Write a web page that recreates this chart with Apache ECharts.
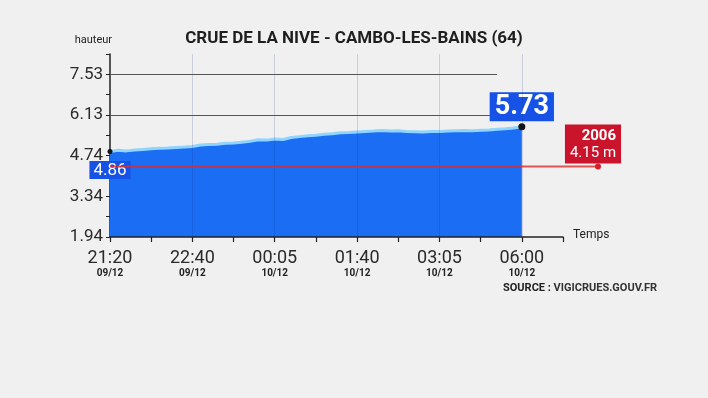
<!DOCTYPE html>
<html>
<head>
<meta charset="utf-8">
<script src="https://cdn.jsdelivr.net/npm/echarts@6/dist/echarts.min.js"></script>
<style>
  html, body { margin: 0; padding: 0; background: #f0f0f0; }
  #main { width: 708px; height: 398px; }
</style>
</head>
<body>
<div id="main"></div>
<script>
// hauteur de la Nive, un point tous les ~10 min
var hauteurs = [4.88, 4.92, 4.90, 4.93, 4.95, 4.97, 4.99, 5.00, 5.02, 5.03,
                5.05, 5.10, 5.12, 5.13, 5.16, 5.17, 5.20, 5.23, 5.28, 5.27,
                5.31, 5.29, 5.36, 5.39, 5.42, 5.44, 5.47, 5.49, 5.52, 5.53,
                5.55, 5.57, 5.58, 5.60, 5.58, 5.59, 5.57, 5.56, 5.55, 5.57,
                5.57, 5.58, 5.59, 5.60, 5.59, 5.61, 5.62, 5.64, 5.66, 5.69,
                5.73]
var heures = ['21:20', '22:40', '00:05', '01:40', '03:05', '06:00']
var jours = ['09/12', '09/12', '10/12', '10/12', '10/12', '10/12']
var yTicks = [1.94, 3.34, 4.74, 6.13, 7.53]
var yMinorTicks = [1.94, 2.64, 3.34, 4.04, 4.74, 5.43, 6.13, 6.83, 7.53, 8.23]
var gridLevels = [6.13, 7.53]
var crue2006 = 4.36   // position du trait rouge sur le graphique
var crue2006Label = '4.15 m'
var crue2006Fin = 59.2  // le trait dépasse la fin de l'axe

var PAS = 10           // points entre deux étiquettes
var NB_CAT = 56        // axe prolongé après 06:00
var categories = []
for (var i = 0; i < NB_CAT; i++) categories.push(String(i))

var Y_MIN = 1.94, Y_MAX = 8.23

var chartDom = document.getElementById('main')
var myChart = echarts.init(chartDom)
var font = 'Roboto'

var last = hauteurs.length - 1
var serieData = hauteurs.map(function (v, i) {
  if (i === 0) {
    return {
      value: v, symbol: 'circle', symbolSize: 5,
      itemStyle: { color: '#111' },
      label: {
        show: true, position: 'bottom', distance: 7,
        formatter: '4.86', color: '#fff', fontFamily: font, fontSize: 17,
        backgroundColor: '#1652e6', padding: [1, 4, 0, 4]
      }
    }
  }
  if (i === last) {
    return {
      value: v, symbol: 'circle', symbolSize: 7,
      itemStyle: { color: '#111' },
      label: {
        show: true, position: 'top', distance: 0, offset: [0, -2],
        formatter: '5.73', color: '#fff', fontFamily: font, fontWeight: 'bold', fontSize: 27,
        lineHeight: 28,
        backgroundColor: '#1652e6', padding: [1, 5, 0, 5],
        borderColor: '#e8f0ff', borderWidth: 1
      }
    }
  }
  return v
})

var option = {
  backgroundColor: '#f0f0f0',
  animation: false,
  title: [
    {
      text: 'CRUE DE LA NIVE - CAMBO-LES-BAINS (64)',
      left: 'center', top: 25,
      textStyle: { fontFamily: font, fontWeight: 'bold', fontSize: 17, color: '#1e1e1e' }
    },
    {
      text: '{b|SOURCE :} VIGICRUES.GOUV.FR',
      left: 498, top: 278,
      textStyle: {
        fontFamily: font, fontSize: 11, color: '#333',
        rich: { b: { fontFamily: font, fontSize: 11, fontWeight: 'bold', color: '#222' } }
      }
    }
  ],
  grid: [
    { left: 110, right: 145, top: 54, bottom: 161 },
    // grille invisible plus large pour le trait de 2006
    { left: 110, right: 110, top: 54, bottom: 161 }
  ],
  xAxis: [
    {
      type: 'category',
      gridIndex: 0,
      data: categories,
      boundaryGap: false,
      z: 3,
      name: 'Temps',
      nameLocation: 'end',
      nameGap: 10,
      nameTextStyle: { fontFamily: font, fontSize: 12, color: '#222', verticalAlign: 'bottom', padding: [0, 0, -4, 0] },
      axisLine: { lineStyle: { color: '#222', width: 1.5 } },
      axisTick: {
        interval: function (idx) { return idx % 5 === 0 },
        length: 5, inside: false,
        lineStyle: { color: '#222', width: 1.2 }
      },
      axisLabel: {
        interval: function (idx) { return idx % PAS === 0 && idx / PAS < heures.length },
        formatter: function (v, idx) {
          var k = idx / PAS
          return '{h|' + heures[k] + '}\n{d|' + jours[k] + '}'
        },
        margin: 13,
        rich: {
          h: { fontFamily: font, fontSize: 18, color: '#2a2a2a', lineHeight: 17 },
          d: { fontFamily: font, fontSize: 10, fontWeight: 'bold', color: '#222', lineHeight: 12 }
        }
      },
      splitLine: {
        show: true,
        interval: function (idx) { return idx % PAS === 0 && idx > 0 && idx / PAS < heures.length },
        lineStyle: { color: 'rgba(10,40,110,0.16)', width: 1 }
      }
    },
    {
      type: 'value',
      gridIndex: 1,
      min: 0,
      max: crue2006Fin,
      show: false
    }
  ],
  yAxis: [
    {
      type: 'value',
      gridIndex: 0,
      min: Y_MIN,
      max: Y_MAX,
      name: 'hauteur',
      nameLocation: 'end',
      nameGap: 8,
      nameTextStyle: { fontFamily: font, fontSize: 11, color: '#222', align: 'right', padding: [0, -2, 0, 0] },
      axisLine: { show: true, lineStyle: { color: '#222', width: 1.5 } },
      axisTick: { show: true, customValues: yMinorTicks, length: 4, lineStyle: { color: '#222' } },
      axisLabel: {
        customValues: yTicks,
        formatter: function (v) { return v.toFixed(2) },
        fontFamily: font, fontSize: 17, color: '#2a2a2a', margin: 7
      },
      splitLine: { show: false }
    },
    {
      type: 'value',
      gridIndex: 1,
      min: Y_MIN,
      max: Y_MAX,
      show: false
    }
  ],
  series: [
    {
      name: 'hauteur',
      type: 'line',
      xAxisIndex: 0,
      yAxisIndex: 0,
      data: serieData,
      symbol: 'none',
      showSymbol: true,
      smooth: false,
      z: 2,
      lineStyle: { color: '#8fd5ff', width: 3 },
      areaStyle: { color: '#1b6df3', opacity: 1 },
      markLine: {
        silent: true,
        symbol: 'none',
        label: { show: false },
        lineStyle: { color: '#555', width: 1, type: 'solid' },
        data: gridLevels.map(function (y) {
          return [{ coord: [0, y] }, { coord: [47, y] }]
        })
      }
    },
    {
      name: '2006',
      type: 'line',
      xAxisIndex: 1,
      yAxisIndex: 1,
      clip: false,
      z: 4,
      data: [
        { value: [0, crue2006], symbol: 'none' },
        {
          value: [crue2006Fin, crue2006], symbol: 'circle', symbolSize: 6,
          label: {
            show: true, position: 'top', distance: 1, offset: [-5, 1],
            formatter: '{a|2006}\n{b|' + crue2006Label + '}',
            backgroundColor: '#c9142b', padding: [3, 5, 2, 5], align: 'center',
            rich: {
              a: { fontFamily: font, fontSize: 15, fontWeight: 'bold', color: '#fff', align: 'right', lineHeight: 17 },
              b: { fontFamily: font, fontSize: 15, color: '#fff', align: 'right', lineHeight: 17 }
            }
          }
        }
      ],
      itemStyle: { color: '#d4202c' },
      lineStyle: { color: '#dd2a2a', width: 2, opacity: 0.8 }
    }
  ]
}
myChart.setOption(option)
</script>
</body>
</html>
